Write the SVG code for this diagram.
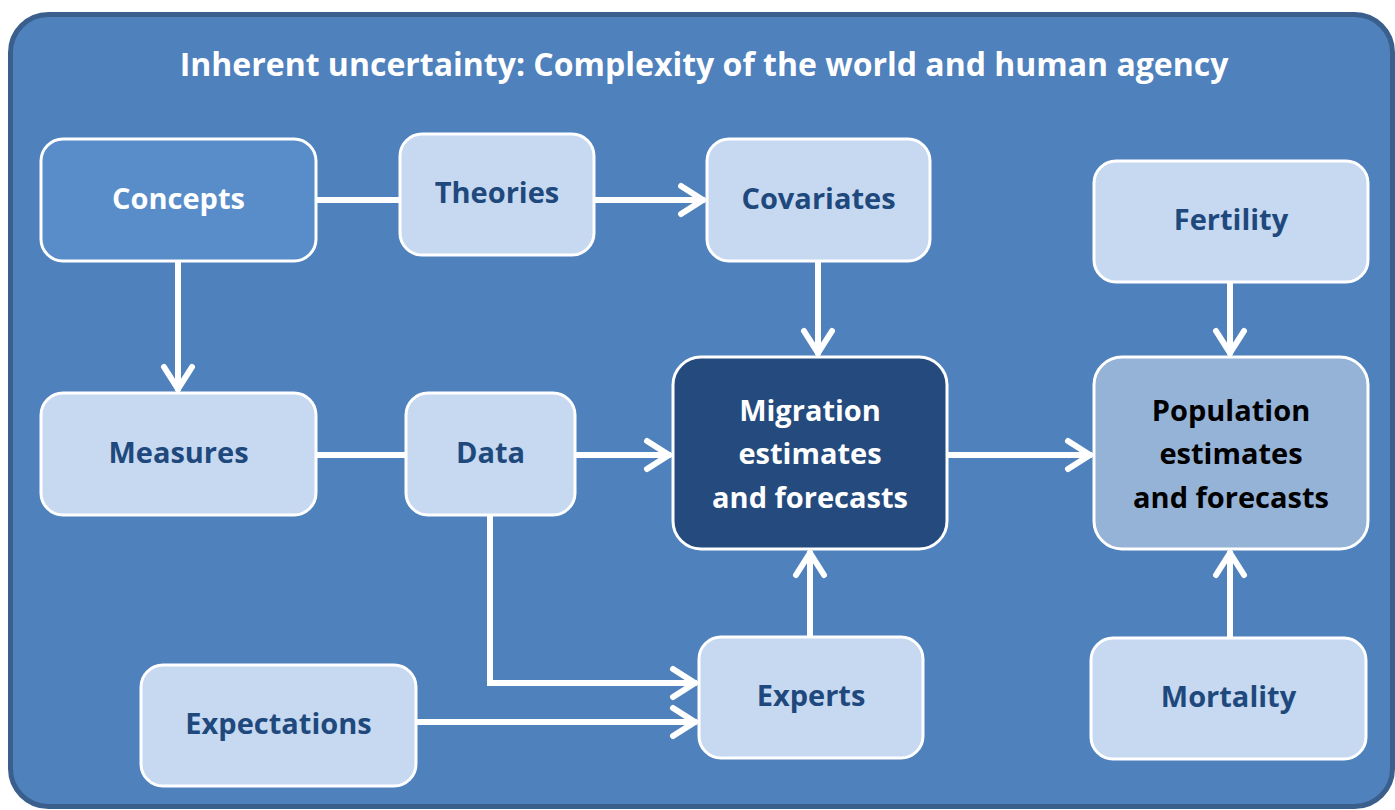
<svg xmlns="http://www.w3.org/2000/svg" width="1395" height="810" viewBox="0 0 1395 810">
  <defs>
    <style>
      .frame { fill: #4F81BD; stroke: #3A5F8C; stroke-width: 5; }
      .box { stroke: #FFFFFF; stroke-width: 3; }
      .light { fill: #C6D9F1; }
      .mid { fill: #588DC9; }
      .dark { fill: #244A7E; }
      .pale { fill: #95B3D7; }
      .lbl { font-family: "Open Sans", Lato, sans-serif; font-weight: bold; font-size: 29px; text-anchor: middle; }
      .navy { fill: #1F497D; }
      .white { fill: #FFFFFF; }
      .black { fill: #000000; }
      .title { font-family: "Open Sans", Lato, sans-serif; font-weight: bold; font-size: 32px; fill: #FFFFFF; text-anchor: middle; }
      .link { fill: none; stroke: #FFFFFF; stroke-width: 6; }
    </style>
    <marker id="arrow" viewBox="0 0 30 36" refX="28" refY="18" markerWidth="30" markerHeight="36" markerUnits="userSpaceOnUse" orient="auto">
      <polyline points="4,4 26,18 4,32" fill="none" stroke="#FFFFFF" stroke-width="6" stroke-linecap="round" stroke-linejoin="miter"/>
    </marker>
  </defs>

  <!-- outer frame -->
  <rect class="frame" x="10.5" y="14.5" width="1382" height="792" rx="38"/>
  <text class="title" x="704" y="76">Inherent uncertainty: Complexity of the world and human agency</text>

  <!-- connectors -->
  <g id="connectors">
    <line class="link" x1="316" y1="200" x2="400" y2="200"/>
    <line class="link" x1="594" y1="200" x2="705" y2="200" marker-end="url(#arrow)"/>
    <line class="link" x1="178" y1="261" x2="178" y2="391" marker-end="url(#arrow)"/>
    <line class="link" x1="316" y1="455" x2="406" y2="455"/>
    <line class="link" x1="575" y1="455" x2="671" y2="455" marker-end="url(#arrow)"/>
    <line class="link" x1="818" y1="261" x2="818" y2="355" marker-end="url(#arrow)"/>
    <line class="link" x1="810" y1="637" x2="810" y2="551" marker-end="url(#arrow)"/>
    <polyline class="link" points="490,515 490,683 697,683" marker-end="url(#arrow)"/>
    <line class="link" x1="416" y1="722" x2="697" y2="722" marker-end="url(#arrow)"/>
    <line class="link" x1="947" y1="455" x2="1092" y2="455" marker-end="url(#arrow)"/>
    <line class="link" x1="1230" y1="282" x2="1230" y2="355" marker-end="url(#arrow)"/>
    <line class="link" x1="1230" y1="637" x2="1230" y2="551" marker-end="url(#arrow)"/>
  </g>

  <!-- nodes -->
  <g id="concepts">
    <rect class="box mid" x="41" y="139" width="275" height="122" rx="22"/>
    <text class="lbl white" x="178.5" y="209">Concepts</text>
  </g>
  <g id="theories">
    <rect class="box light" x="400" y="134" width="194" height="121" rx="22"/>
    <text class="lbl navy" x="497" y="203">Theories</text>
  </g>
  <g id="covariates">
    <rect class="box light" x="707" y="139" width="223" height="122" rx="22"/>
    <text class="lbl navy" x="818.5" y="209">Covariates</text>
  </g>
  <g id="fertility">
    <rect class="box light" x="1094" y="161" width="274" height="121" rx="22"/>
    <text class="lbl navy" x="1231" y="230">Fertility</text>
  </g>
  <g id="measures">
    <rect class="box light" x="41" y="393" width="275" height="122" rx="22"/>
    <text class="lbl navy" x="178.5" y="463">Measures</text>
  </g>
  <g id="data">
    <rect class="box light" x="406" y="393" width="169" height="122" rx="22"/>
    <text class="lbl navy" x="490.5" y="463">Data</text>
  </g>
  <g id="migration">
    <rect class="box dark" x="673" y="357" width="274" height="192" rx="28"/>
    <text class="lbl white" x="810" y="421">Migration</text>
    <text class="lbl white" x="810" y="464">estimates</text>
    <text class="lbl white" x="810" y="508">and forecasts</text>
  </g>
  <g id="population">
    <rect class="box pale" x="1094" y="357" width="274" height="192" rx="28"/>
    <text class="lbl black" x="1231" y="421">Population</text>
    <text class="lbl black" x="1231" y="464">estimates</text>
    <text class="lbl black" x="1231" y="508">and forecasts</text>
  </g>
  <g id="expectations">
    <rect class="box light" x="141" y="665" width="275" height="121" rx="22"/>
    <text class="lbl navy" x="278.5" y="734">Expectations</text>
  </g>
  <g id="experts">
    <rect class="box light" x="699" y="637" width="224" height="121" rx="22"/>
    <text class="lbl navy" x="811" y="706">Experts</text>
  </g>
  <g id="mortality">
    <rect class="box light" x="1091" y="638" width="275" height="121" rx="22"/>
    <text class="lbl navy" x="1228.5" y="707">Mortality</text>
  </g>
</svg>
